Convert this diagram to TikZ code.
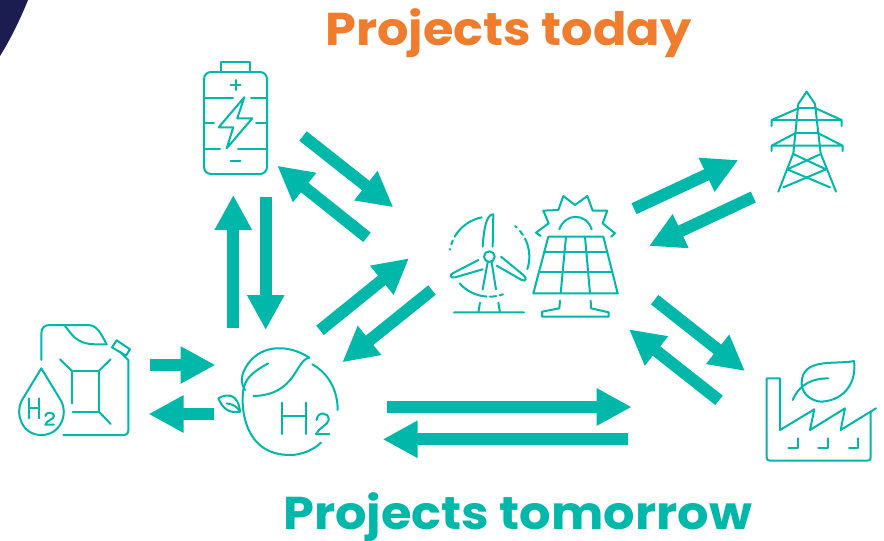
\documentclass[tikz,border=0pt]{standalone}
\usepackage{fontspec}
\setmainfont{Poppins}[FakeStretch=1.075]
\usetikzlibrary{arrows.meta}
\definecolor{teal1}{HTML}{00B8A9}
\definecolor{orange1}{HTML}{F07D2E}
\definecolor{navy1}{HTML}{1B1C4F}
\tikzset{
  bigarrow/.style={draw=teal1,line width=12pt,line cap=butt,-{Triangle[length=35pt,width=35pt,fill=teal1]}},
  icon/.style={draw=teal1,line width=2pt,line cap=round,line join=round,fill=none},
  title/.style={font=\fontsize{46}{50}\selectfont\bfseries,inner sep=0pt,anchor=base west}
}
\begin{document}
\begin{tikzpicture}[x=1pt,y=-1pt]
\useasboundingbox (0,0) rectangle (884,541);
\fill[white] (0,0) rectangle (884,541);
\fill[navy1] (0,0) -- (28,0) .. controls (20,20) and (10,40) .. (0,56) -- cycle;

% titles
\node[title,text=orange1] (today) at (325,45) {Projects today};
\node[title,text=teal1] (tomorrow) at (283,529) {Projects tomorrow};

% battery
\draw[icon] (221,72) -- (221,62) -- (250,62) -- (250,72);
\draw[icon,rounded corners=7pt] (204,72) rectangle (267,174);
\draw[icon] (235.5,80) -- (235.5,90) (230.5,85) -- (240.5,85);
\draw[icon] (230.5,161) -- (240.5,161);
\draw[icon] (204,97.5) -- (233,97.5) (251,97.5) -- (267,97.5);
\draw[icon] (204,123) -- (214,123) (256,123) -- (267,123);
\draw[icon] (204,148.5) -- (220,148.5) (238,148.5) -- (267,148.5);
\draw[icon] (244.3,97.3) -- (218.7,127.3) -- (233.3,127.3) -- (226.7,148.3) -- (252.3,118.3) -- (237.3,118.3) -- cycle;

% jerry can
\begin{scope}[shift={(0,310)},scale=1/3]
\draw[icon] (124,150) -- (124,70) .. controls (124,52) and (135,45) .. (150,45) -- (262,45) .. controls (290,45) and (300,65) .. (320,103);
\draw[icon] (195,48) .. controls (215,70) and (225,103) .. (290,103) -- (320,103);
\draw[icon] (336,112) -- (350,91) -- (390,118) -- (378,137) -- cycle;
\draw[icon] (362,127) -- (385,150) -- (385,360) .. controls (385,370) and (380,375) .. (370,375) -- (190,375);
\draw[icon] (215,280) -- (215,182) -- (297,182) -- (297,305) -- (218,305);
\draw[icon] (180,148) -- (215,182) (332,148) -- (297,182) (297,305) -- (332,342);
\draw[icon] (124,175) -- (65,272) .. controls (45,310) and (65,375) .. (124,375) .. controls (183,375) and (205,310) .. (183,272) -- cycle;
\draw[icon] (88,265) -- (88,325) (118,265) -- (118,325) (88,295) -- (118,295);
\draw[icon] (136,318) .. controls (136,305) and (162,305) .. (162,318) .. controls (162,328) and (140,330) .. (136,344) -- (162,344);
\end{scope}

% H2 leaf
\begin{scope}[shift={(0,310)},scale=1/3]
\draw[icon] (928,143) .. controls (870,105) and (790,100) .. (745,160) .. controls (720,195) and (722,220) .. (735,240);
\draw[icon] (928,143) .. controls (885,150) and (890,255) .. (760,258);
\draw[icon] (805,160) .. controls (750,190) and (735,210) .. (730,240) .. controls (722,290) and (730,435) .. (870,435) .. controls (905,435) and (940,420) .. (963,398);
\draw[icon] (937,163) .. controls (985,190) and (1013,240) .. (1013,300);
\draw[icon] (655,265) .. controls (680,250) and (715,250) .. (720,305) .. controls (690,310) and (670,300) .. (655,265);
\draw[icon] (680,280) .. controls (700,283) and (712,290) .. (720,305);
\draw[icon] (845,278) -- (845,372) (917,278) -- (917,372) (845,318) -- (917,318);
\draw[icon] (950,330) .. controls (952,303) and (988,305) .. (986,330) .. controls (984,345) and (958,352) .. (948,372) -- (988,372);
\end{scope}

% wind turbine + solar panel
\begin{scope}[shift={(440,180)},scale=1/3]
\draw[icon] (148,230) circle[radius=16];
\draw[icon] (128,200) .. controls (130,170) and (135,105) .. (158,103) -- (160,103) -- (158,200);
\draw[icon] (115,240) -- (38,280) .. controls (28,285) and (30,295) .. (45,292) -- (128,268);
\draw[icon] (183,230) -- (250,285) .. controls (262,295) and (258,306) .. (245,300) -- (170,257);
\draw[icon] (143,247) -- (128,328) (155,247) -- (168,328);
\draw[icon] (42,397) -- (252,397) (120,368) -- (115,397) (175,368) -- (180,397);
\foreach \a/\b in {259/210,204/198,191/190,138/94,89/80,75/70,18/-27,-33/-40,-47/-50}{
  \draw[icon] ([shift={(148,230)}]\a:120) arc[start angle=\a,end angle=\b,radius=120];
}
\draw[icon] (325,170) -- (490,170) -- (533,340) -- (280,340) -- cycle;
\draw[icon] (314,215) -- (502,215) (298,275) -- (517,275);
\draw[icon] (378,170) -- (362,340) (435,170) -- (450,340);
\draw[icon] (360,362) -- (358,385) -- (306,395) -- (306,410) -- (506,410) -- (506,397) -- (453,385) -- (452,362);
\draw[icon] (358,148) .. controls (375,98) and (440,98) .. (455,148);
\draw[icon] (302,168) -- (288,158) -- (326,130) -- (310,92) -- (355,90) -- (370,48) -- (405,75) -- (442,48) -- (458,92) -- (502,92) -- (488,130) -- (525,160) -- (513,170);
\end{scope}

% pylon
\begin{scope}[shift={(750,80)},scale=1/3]
\draw[icon] (85,335) -- (130,220) -- (145,72) -- (170,35) -- (195,72) -- (212,220) -- (258,335);
\draw[icon] (145,85) -- (197,85) (137,160) -- (205,160);
\draw[icon] (65,138) -- (65,120) -- (145,85) (65,120) -- (275,120) -- (197,85) (275,120) -- (275,138);
\draw[icon] (65,213) -- (65,197) -- (135,160) (65,197) -- (278,197) -- (205,160) (278,197) -- (278,213);
\draw[icon] (130,222) -- (228,268) -- (100,322);
\draw[icon] (212,222) -- (112,268) -- (240,322);
\end{scope}

% factory
\begin{scope}[shift={(750,350)},scale=1/3]
\draw[icon] (90,240) -- (90,85) -- (50,85) -- (50,322) .. controls (50,330) and (54,332) .. (60,332) -- (352,332) .. controls (360,332) and (362,330) .. (362,322) -- (362,187);
\draw[icon] (90,240) -- (193,178) -- (180,240) -- (285,175) -- (272,240) -- (378,175);
\draw[icon] (115,293) -- (143,293) -- (143,265) (205,293) -- (233,293) -- (233,265) (297,293) -- (325,293) -- (325,265);
\draw[icon] (312,33) .. controls (260,45) and (155,20) .. (155,100) .. controls (155,135) and (190,155) .. (215,155) .. controls (290,150) and (320,90) .. (312,33);
\draw[icon] (128,150) .. controls (150,100) and (190,85) .. (235,85);
\end{scope}

% connector ends
\coordinate (batOut) at (303,136);      \coordinate (hubIn) at (393.3,207.3);
\coordinate (hubOut) at (367,237.3);    \coordinate (batIn) at (277.3,165.7);
\coordinate (h2Up) at (233.3,327.7);    \coordinate (batDownIn) at (233.3,195);
\coordinate (batDown) at (265.7,197.3); \coordinate (h2DownIn) at (265.7,330);
\coordinate (h2Hub) at (320,330.3);     \coordinate (hubH2In) at (409,258.3);
\coordinate (hubH2) at (432,290);       \coordinate (h2In) at (342.3,362.3);
\coordinate (hubTower) at (634,208.7);  \coordinate (towerIn) at (738.3,160);
\coordinate (towerHub) at (753.3,197);  \coordinate (hubTowerIn) at (649,246);
\coordinate (hubFact) at (654.7,299.7); \coordinate (factIn) at (745,371);
\coordinate (factHub) at (719,400.3);   \coordinate (hubFactIn) at (629,329.3);
\coordinate (canH2) at (150,365);       \coordinate (h2CanIn) at (215.5,365);
\coordinate (h2Can) at (214,414);       \coordinate (canIn) at (148.5,414);
\coordinate (longA) at (386.7,407);     \coordinate (longATip) at (631.7,407);
\coordinate (longB) at (628.3,439.3);   \coordinate (longBTip) at (382.7,439.3);

\foreach \s/\t in {batOut/hubIn,hubOut/batIn,h2Up/batDownIn,batDown/h2DownIn,h2Hub/hubH2In,hubH2/h2In,hubTower/towerIn,towerHub/hubTowerIn,hubFact/factIn,factHub/hubFactIn,canH2/h2CanIn,h2Can/canIn,longA/longATip,longB/longBTip}{
  \draw[bigarrow] (\s) -- (\t);
}
\end{tikzpicture}
\end{document}
